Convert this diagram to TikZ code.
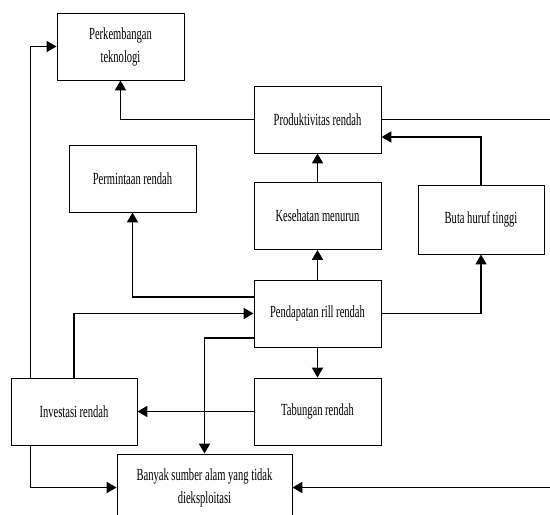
\documentclass[tikz,border=0pt]{standalone}
\usepackage{fontspec}
\setmainfont{Liberation Serif}[FakeStretch=0.62]
\usepackage{tikz}
\usetikzlibrary{arrows.meta,calc}

\tikzset{
  box/.style={draw, line width=0.9pt, minimum width=127pt, minimum height=67pt,
    inner sep=0pt, align=center, font=\fontsize{17}{23}\selectfont},
  link/.style={line width=1.8pt},
  arr/.style={link, -{Triangle[length=10pt,width=11pt]}}
}

\begin{document}
\begin{tikzpicture}[x=1pt, y=-1pt]

% 1. FRAME
\useasboundingbox (0,0) rectangle (550,515);
\clip (0,0) rectangle (550,515);

% 2. BOXES
\node[box] (tek) at (120.5,46.5) {Perkembangan\\teknologi};
\node[box] (prod) at (317.5,119.5) {Produktivitas rendah};
\node[box] (minta) at (132.5,178.5) {Permintaan rendah};
\node[box] (sehat) at (317.5,216) {Kesehatan menurun};
\node[box, minimum width=126pt, minimum height=69pt] (buta) at (481,219.5) {Buta huruf tinggi};
\node[box] (dapat) at (317.5,313.5) {Pendapatan rill rendah};
\node[box] (tabung) at (317.5,411.5) {Tabungan rendah};
\node[box, minimum width=126pt] (invest) at (74,411.5) {Investasi rendah};
\node[box, minimum width=175pt] (alam) at (204.5,487.5) {Banyak sumber alam yang tidak\\dieksploitasi};

% 3. LINKS
% upper part
\draw[arr] ($(invest.north west)+(20,0)$) |- (tek.west);
\draw[arr] (prod.west) -| (tek.south);
\draw[link] (prod.east) -- ++(200,0);
\draw[arr] (buta.north) |- ($(prod.east)+(0,17.5)$);
\draw[arr] (sehat.north) -- (prod.south);
\draw[arr] (dapat.north) -- (sehat.south);

% around Pendapatan
\draw[arr] ($(dapat.west)+(0,-16.5)$) -| (minta.south);
\draw[arr] (invest.north) |- (dapat.west);
\draw[arr] ($(dapat.west)+(0,24.5)$) -| (alam.north);
\draw[arr] (dapat.east) -| (buta.south);
\draw[arr] (dapat.south) -- (tabung.north);

% lower part
\draw[arr] (tabung.west) -- (invest.east);
\draw[arr] ($(invest.south west)+(20,0)$) |- (alam.west);
\coordinate (back) at ($(alam.east)+(300,0)$);
\draw[arr] (back) -- (alam.east);

\end{tikzpicture}
\end{document}
